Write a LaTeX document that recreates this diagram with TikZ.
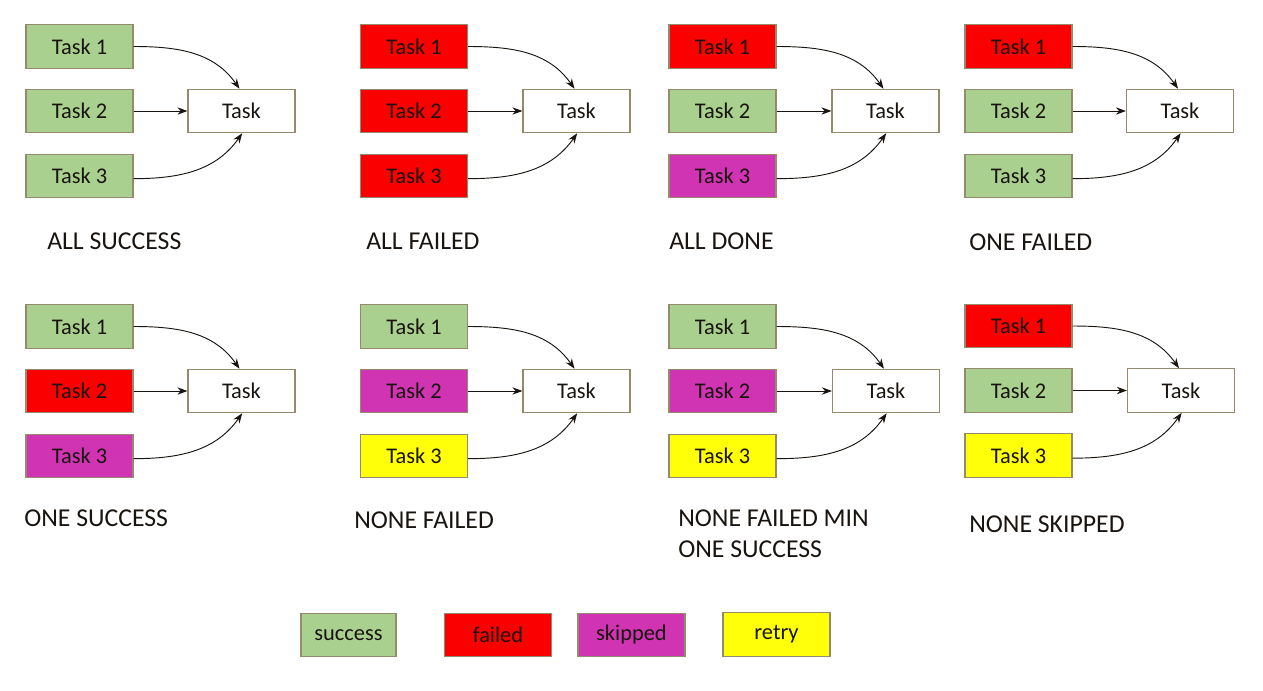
\documentclass[tikz,border=0pt]{standalone}
\usepackage{fontspec}
\setmainfont{Carlito}
\usetikzlibrary{arrows.meta}
\definecolor{cgreen}{RGB}{169,208,142}
\definecolor{cred}{RGB}{250,0,0}
\definecolor{cmag}{RGB}{208,52,178}
\definecolor{cyel}{RGB}{255,255,10}
\definecolor{cborder}{RGB}{150,138,108}
\definecolor{ctext}{RGB}{25,20,15}
\tikzset{
  box/.style={draw=cborder, line width=0.9pt, minimum width=80.25pt, minimum height=32.5pt, inner sep=0pt, font=\fontsize{16.8}{19}\selectfont, text=ctext},
  arr/.style={-{Stealth[length=7.5pt,width=5.5pt]}, line width=0.7pt, draw=ctext},
  lbl/.style={anchor=west, font=\fontsize{19.3}{23}\selectfont, text=ctext, inner sep=0pt, align=left}
}
% #1 prefix, #2 task center x, #3 first task center y, #4 target center x, #5 #6 #7 colours
\newcommand\mypanel[7]{%
  \node[box, fill=#5] (#1a) at (#2,#3) {Task 1};
  \node[box, fill=#6] (#1b) at (#2,{#3+64.5}) {Task 2};
  \node[box, fill=#7] (#1c) at (#2,{#3+129.5}) {Task 3};
  \node[box, fill=white] (#1t) at (#4,{#3+64.5}) {Task};
  \draw[arr] (#1a.east) to[out=0,in=125] ([xshift=-1.5pt]#1t.north);
  \draw[arr] (#1b.east) -- (#1t.west);
  \draw[arr] ([yshift=-2pt]#1c.east) to[out=0,in=235] ([xshift=0.5pt]#1t.south);
}
\begin{document}
\begin{tikzpicture}[x=0.75pt,y=-0.75pt]
\useasboundingbox (0,0) rectangle (1263,690);
\mypanel{pa}{79.5}{46.5}{241.5}{cgreen}{cgreen}{cgreen}
\mypanel{pb}{414}{46.5}{576.5}{cred}{cred}{cred}
\mypanel{pc}{722.5}{46.5}{885.5}{cred}{cgreen}{cmag}
\mypanel{pd}{1018.5}{46.5}{1180}{cred}{cgreen}{cgreen}
\mypanel{pe}{79.5}{326.5}{241.5}{cgreen}{cred}{cmag}
\mypanel{pf}{414}{326.5}{576.5}{cgreen}{cmag}{cyel}
\mypanel{pg}{722.5}{326.5}{886}{cgreen}{cmag}{cyel}
\mypanel{ph}{1018.5}{326}{1181}{cred}{cgreen}{cyel}
\node[lbl] (la) at (47,241) {ALL SUCCESS};
\node[lbl] (lb) at (366,241) {ALL FAILED};
\node[lbl] (lc) at (669,241) {ALL DONE};
\node[lbl] (ld) at (969,242) {ONE FAILED};
\node[lbl] (le) at (24,518) {ONE SUCCESS};
\node[lbl] (lf) at (354,520) {NONE FAILED};
\node[lbl] (lg1) at (678,518) {NONE FAILED MIN};
\node[lbl] (lg2) at (678,549) {ONE SUCCESS};
\node[lbl] (lh) at (969,524) {NONE SKIPPED};
\node[box, fill=cgreen, minimum width=71.25pt] (k1) at (348.5,635) {success};
\node[box, fill=cred] (k2) at (498,635) {failed};
\node[box, fill=cmag] (k3) at (631.5,635) {skipped};
\node[box, fill=cyel] (k4) at (776.5,634.5) {retry};
\end{tikzpicture}
\end{document}
